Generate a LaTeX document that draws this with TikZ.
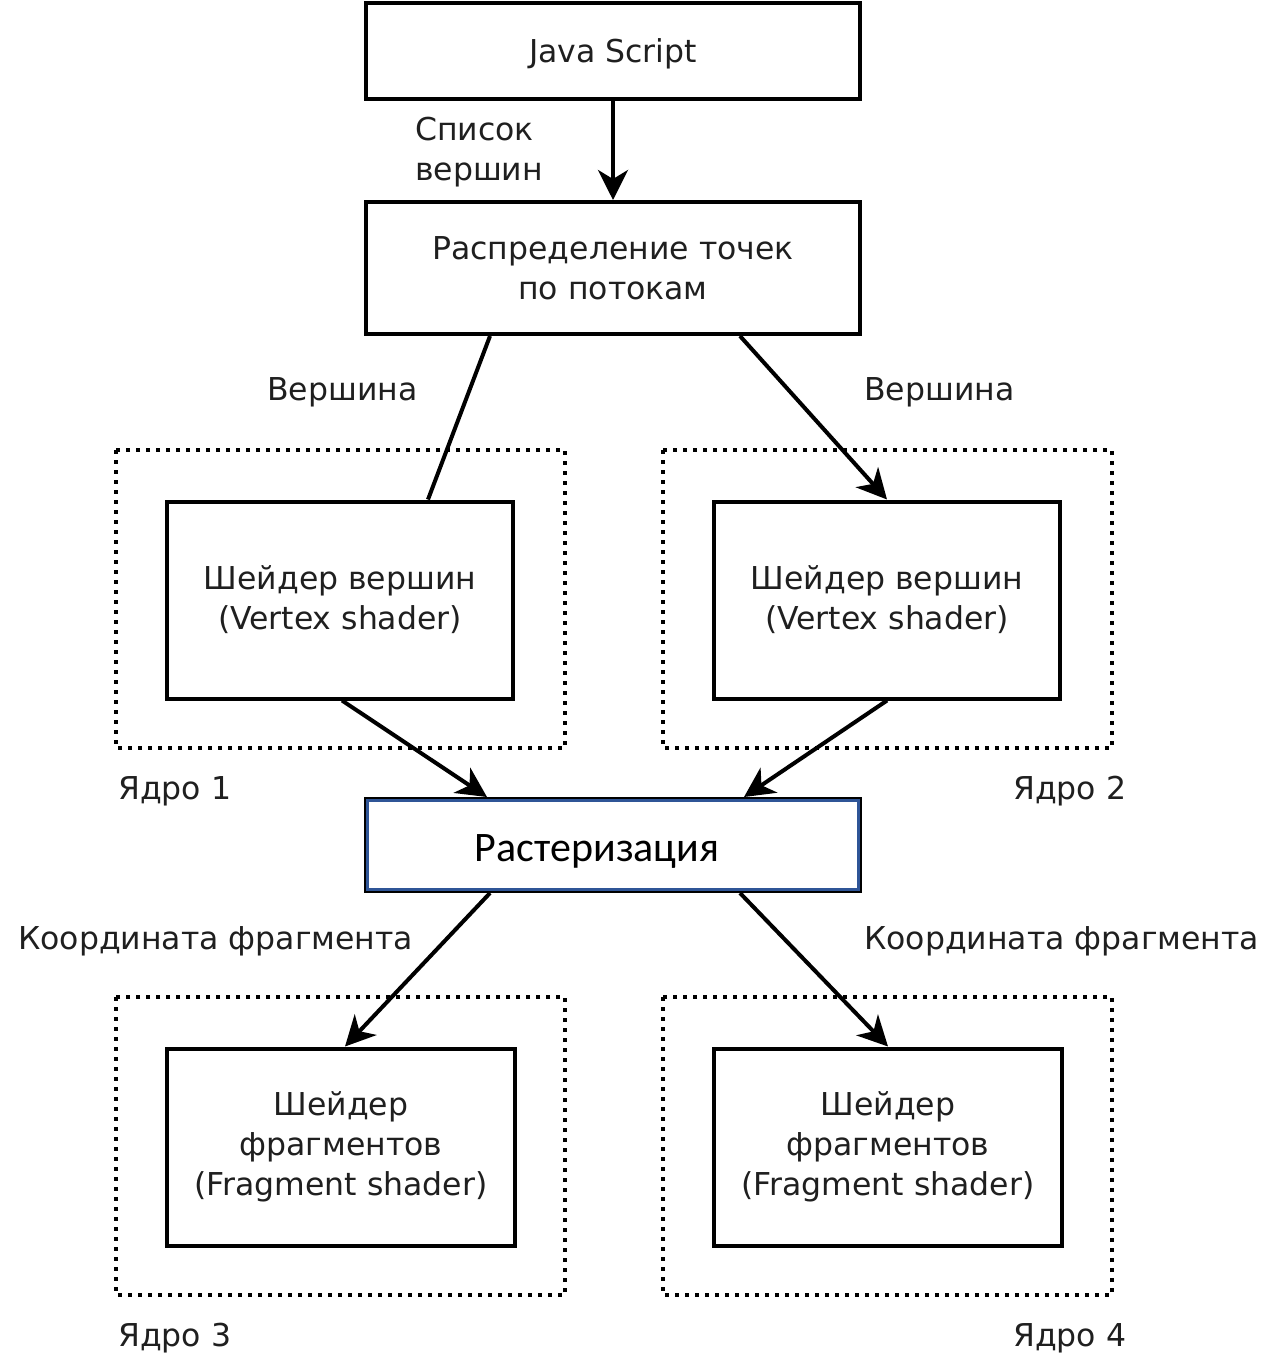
\documentclass[tikz,border=0pt]{standalone}
\usepackage{fontspec}
\setmainfont{DejaVu Sans}
\newfontfamily\rasfont{Carlito}
\usetikzlibrary{arrows.meta}
\definecolor{rasblue}{HTML}{2F5597}
\newcommand\lowered[2]{\raisebox{-#1}[\height][\depth]{#2}}
\begin{document}
\begin{tikzpicture}[x=1pt,y=-1pt,
  every node/.style={text=black!88, font=\fontsize{31.5}{40}\selectfont},
  box/.style={draw=black, line width=4pt, rectangle, align=center, inner sep=0pt},
  core/.style={draw=black, line width=3.6pt, dash pattern=on 4pt off 6pt},
  lbl/.style={anchor=base west, inner sep=0pt},
  conn/.style={line width=4pt},
  arr/.style={conn, -{Stealth[length=30pt,width=30pt,inset=9pt]}}]
\useasboundingbox (0,0) rectangle (1268,1354);

% dotted core frames
\draw[core] (116,450) rectangle (565,748);
\draw[core] (663,450) rectangle (1112,748);
\draw[core] (116,997) rectangle (565,1295);
\draw[core] (663,997) rectangle (1112,1295);

% main boxes
\node[box, minimum width=494pt, minimum height=96pt] (js) at (613,51) {\lowered{3pt}{Java Script}};
\node[box, minimum width=494pt, minimum height=132pt] (dist) at (613,268) {Распределение точек\\по потокам};
\node[box, minimum width=346pt, minimum height=197pt] (vs1) at (340,600) {Шейдер вершин\\(Vertex shader)};
\node[box, minimum width=346pt, minimum height=197pt] (vs2) at (887,600) {Шейдер вершин\\(Vertex shader)};
\node[box, minimum width=494pt, minimum height=92pt, text=black, font=\rasfont\fontsize{42}{50}\selectfont] (ras) at (613,845) {\lowered{6pt}{Растеризация}\hspace*{32pt}};
\draw[rasblue, line width=2.6pt] ([xshift=3.3pt,yshift=-3.3pt]ras.north west) rectangle ([xshift=-3.3pt,yshift=3.3pt]ras.south east);
\node[box, minimum width=348pt, minimum height=197pt] (fs1) at (341,1147) {Шейдер\\фрагментов\\(Fragment shader)};
\node[box, minimum width=348pt, minimum height=197pt] (fs2) at (888,1147) {Шейдер\\фрагментов\\(Fragment shader)};

% labels
\node[anchor=west, align=left, inner sep=0pt] (lst) at (415,152) {Список\\вершин};
\node[lbl] (v1) at (267,400) {Вершина};
\node[lbl] (v2) at (864,400) {Вершина};
\node[lbl] (k1) at (118,799) {Ядро 1};
\node[lbl] (k2) at (1013,799) {Ядро 2};
\node[lbl] (c1) at (18,949) {Координата фрагмента};
\node[lbl] (c2) at (864,949) {Координата фрагмента};
\node[lbl] (k3) at (118,1346) {Ядро 3};
\node[lbl] (k4) at (1013,1346) {Ядро 4};

% connectors
\draw[arr] (js.south) -- (dist.north);
\draw[conn] ([xshift=-123pt]dist.south) -- ([xshift=88pt]vs1.north);
\draw[arr] ([xshift=127pt]dist.south) -- (vs2.north);
\draw[arr] ([xshift=2pt]vs1.south) -- ([xshift=-126pt]ras.north);
\draw[arr] (vs2.south) -- ([xshift=131pt]ras.north);
\draw[arr] ([xshift=-123pt]ras.south) -- ([xshift=4pt]fs1.north);
\draw[arr] ([xshift=127pt]ras.south) -- (fs2.north);
\end{tikzpicture}
\end{document}
